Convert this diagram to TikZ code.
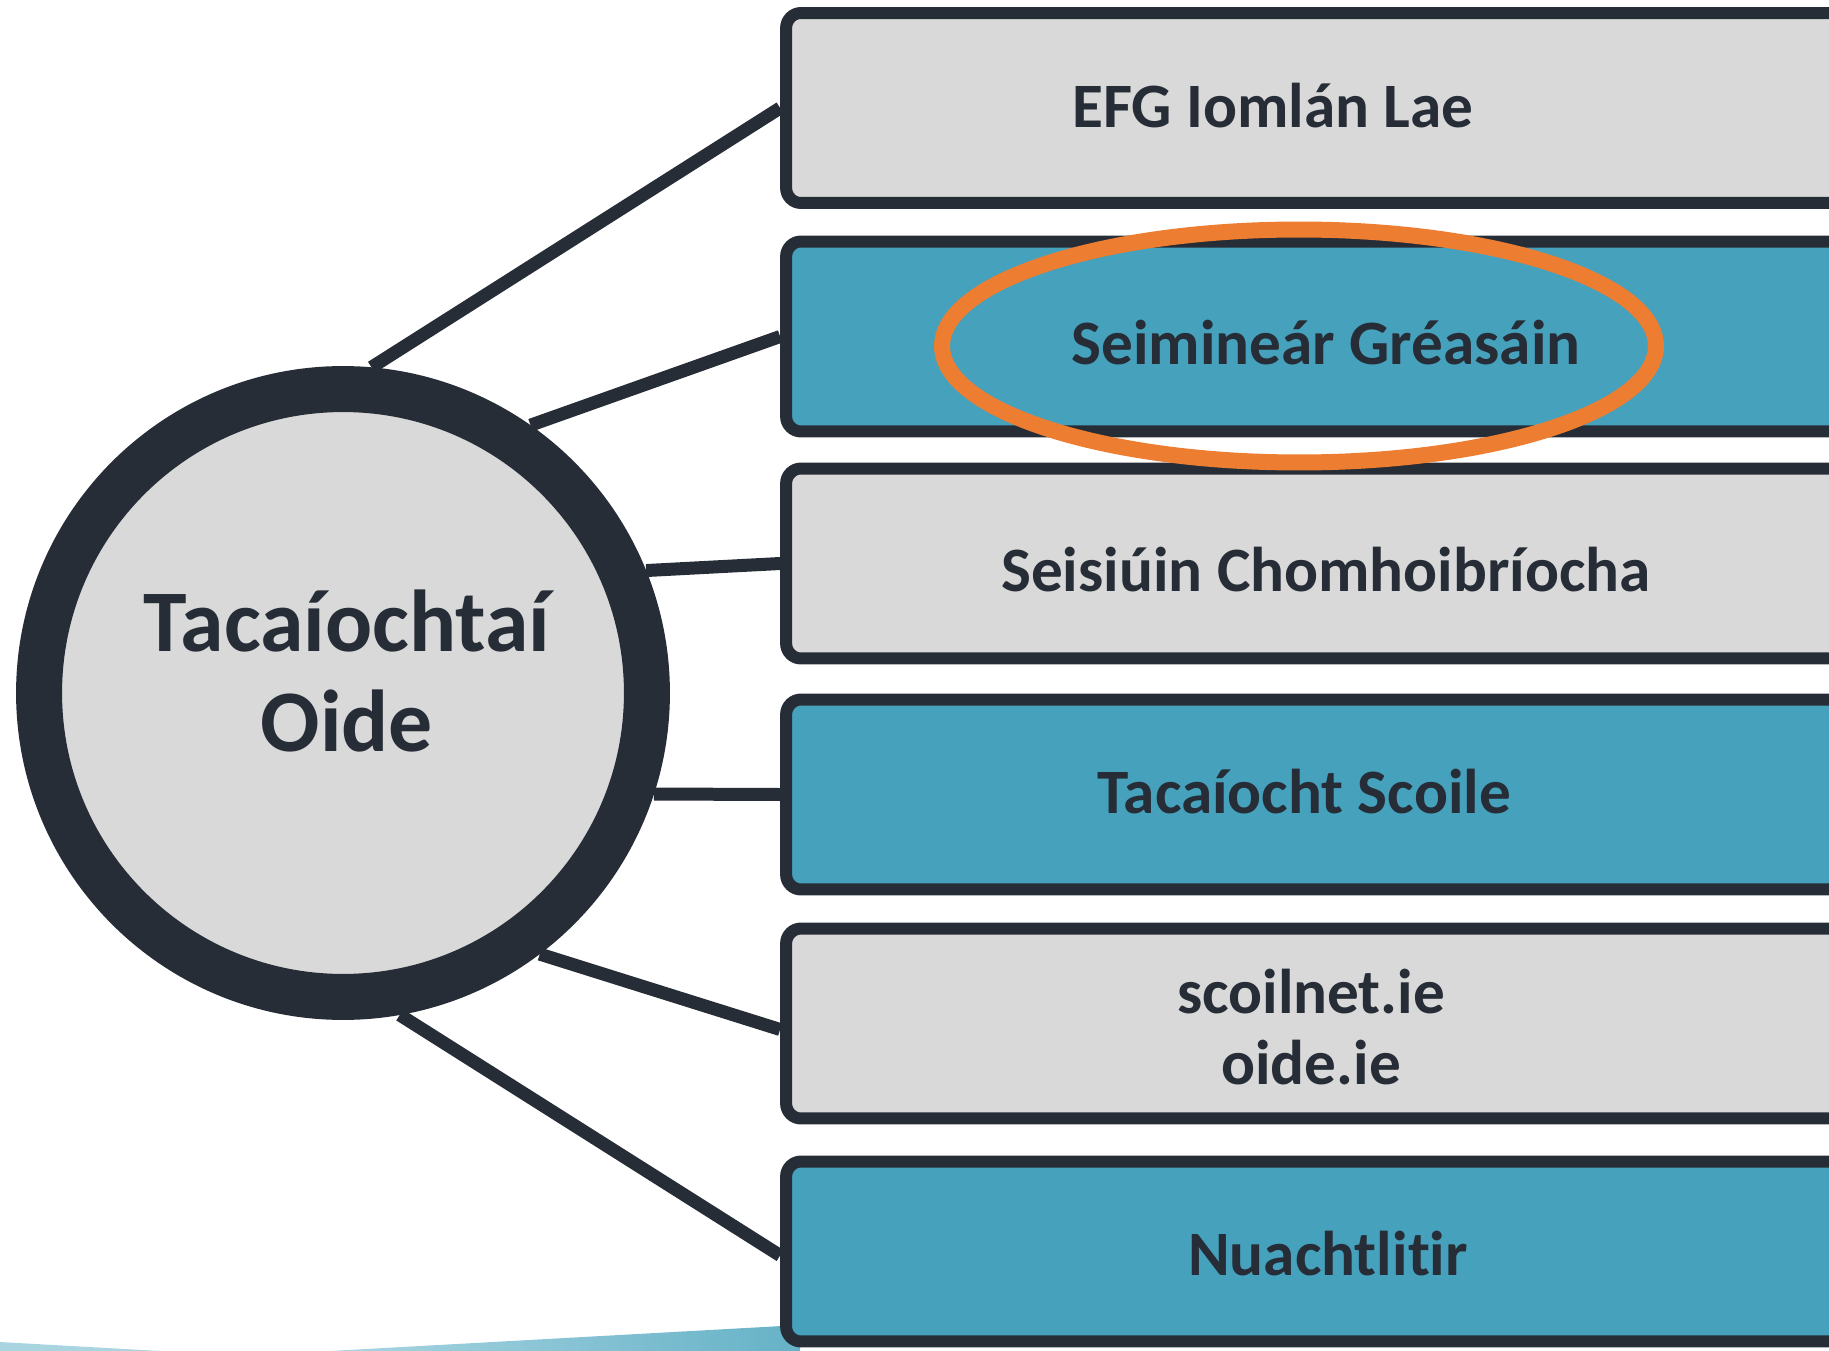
\documentclass[tikz,border=0pt]{standalone}
\usepackage{fontspec}
\setmainfont{Carlito}[Ligatures=NoCommon]

\definecolor{inkdark}{HTML}{272D37}
\definecolor{boxgrey}{HTML}{D9D9D9}
\definecolor{boxteal}{HTML}{45A1BC}
\definecolor{ringorange}{HTML}{ED7D31}
\definecolor{wavelight}{HTML}{A9D5E1}
\definecolor{wavedark}{HTML}{66B2C7}

\tikzset{
  hub/.style={circle, draw=inkdark, fill=boxgrey, line width=0.92cm, minimum size=12.16cm, inner sep=0},
  greybox/.style={rectangle, draw=inkdark, fill=boxgrey, line width=0.24cm, rounded corners=0.3cm,
    minimum width=22cm, minimum height=3.8cm, inner sep=0},
  tealbox/.style={greybox, fill=boxteal},
  link/.style={draw=inkdark, line width=0.26cm},
  boxtext/.style={text=inkdark, inner sep=0, font=\bfseries\fontsize{36}{40.8}\selectfont},
  hubtext/.style={text=inkdark, inner sep=0, font=\bfseries\fontsize{50}{57.3}\selectfont},
}

\begin{document}
\begin{tikzpicture}[x=0.02cm, y=-0.02cm]
\useasboundingbox (0,0) rectangle (1829,1351);
\clip (0,0) rectangle (1829,1351);

% Draw the teal wave along the bottom
\fill[wavelight] (0,1342) -- (160,1351) -- (0,1351) -- cycle;
\shade[left color=wavelight, right color=wavedark] (330,1351) -- (800,1325) -- (800,1351) -- cycle;

% Draw the centre circle
\node[hub] (hub) at (343,693) {};

% Draw the six boxes
\node[greybox] (efg) at (1336,108) {};
\node[tealbox] (web) at (1336,336.5) {};
\node[greybox] (sess) at (1336,563.5) {};
\node[tealbox] (school) at (1336,794.5) {};
\node[greybox] (site) at (1336,1023.5) {};
\node[tealbox, minimum height=3.6cm] (news) at (1336,1251.5) {};

% Draw the links from the circle to the boxes
\draw[link] (hub.85) -- (efg.west);
\draw[link] (hub.55) -- (web.west);
\draw[link] (hub.22) -- (sess.west);
\draw[link] (hub.-18) -- (school.west);
\draw[link] (hub.-53) -- ([yshift=-0.12cm]site.west);
\draw[link] (hub.-80) -- ([yshift=-0.08cm]news.west);

% Label the circle and the boxes
\node[hubtext, align=center] (hubname) at (347,671) {Tacaíochtaí\\Oide};
\node[boxtext, anchor=base] (efgname) at (1273,128) {EFG Iomlán Lae};
\node[boxtext, anchor=base] (webname) at (1326,365) {Seimineár Gréasáin};
\node[boxtext, anchor=base] (sessname) at (1326,591) {Seisiúin Chomhoibríocha};
\node[boxtext, anchor=base] (schoolname) at (1304,813) {Tacaíocht Scoile};
\node[boxtext, align=center] (sitename) at (1311,1027) {scoilnet.ie\\oide.ie};
\node[boxtext, anchor=base] (newsname) at (1328,1275) {Nuachtlitir};

% Draw the orange ring round the webinar box
\draw[ringorange, line width=0.32cm] (1299,346) ellipse [x radius=7.14cm, y radius=2.33cm];

\end{tikzpicture}
\end{document}
